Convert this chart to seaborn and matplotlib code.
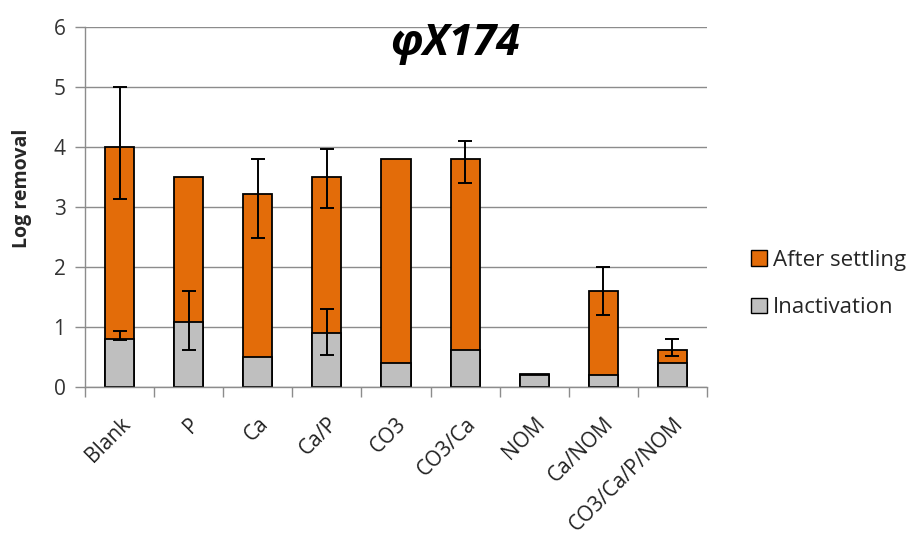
import matplotlib
matplotlib.use("Agg")
import matplotlib.pyplot as plt
import seaborn as sns
import numpy as np
import pandas as pd
from matplotlib.patches import Patch

# Treatment conditions and log removal values
categories = ["Blank", "P", "Ca", "Ca/P", "CO3", "CO3/Ca", "NOM", "Ca/NOM", "CO3/Ca/P/NOM"]
after_settling = [4.0, 3.5, 3.22, 3.5, 3.8, 3.8, 0.21, 1.6, 0.62]
inactivation = [0.8, 1.09, 0.5, 0.9, 0.4, 0.62, 0.2, 0.2, 0.4]

# Error bar extents (below / above the bar top)
settling_err_lo = [0.87, 0.0, 0.73, 0.52, 0.0, 0.4, 0.0, 0.4, 0.11]
settling_err_hi = [1.0, 0.0, 0.58, 0.47, 0.0, 0.3, 0.0, 0.4, 0.18]
inact_err_lo = [0.02, 0.48, 0.0, 0.37, 0.0, 0.0, 0.0, 0.0, 0.0]
inact_err_hi = [0.13, 0.51, 0.0, 0.4, 0.0, 0.0, 0.0, 0.0, 0.0]

yticks = [0, 1, 2, 3, 4, 5, 6]

ORANGE = "#E36C09"
GREY = "#BFBFBF"
AXIS_GREY = "#8C8C8C"

sns.set_theme(style="white")
plt.rcParams["font.family"] = ["Open Sans", "DejaVu Sans"]

df = pd.DataFrame({
    "condition": categories,
    "after": after_settling,
    "inact": inactivation,
})

fig = plt.figure(figsize=(9.14, 5.42), dpi=100)
ax = fig.add_axes([85 / 914, 155 / 542, 622 / 914, 360 / 542])

sns.barplot(data=df, x="condition", y="after", color=ORANGE, saturation=1,
            width=0.42, edgecolor="black", linewidth=1.3, ax=ax, zorder=3)
sns.barplot(data=df, x="condition", y="inact", color=GREY, saturation=1,
            width=0.42, edgecolor="black", linewidth=1.3, ax=ax, zorder=3)

x = np.arange(len(categories))


def draw_err(values, lo, hi):
    values, lo, hi = map(np.asarray, (values, lo, hi))
    mask = (lo + hi) > 0
    ax.errorbar(x[mask], values[mask], yerr=[lo[mask], hi[mask]], fmt="none",
                ecolor="black", elinewidth=1.4, capsize=5, capthick=1.4, zorder=4)


draw_err(after_settling, settling_err_lo, settling_err_hi)
draw_err(inactivation, inact_err_lo, inact_err_hi)

ax.set_xlim(-0.5, len(categories) - 0.5)
ax.set_ylim(0, 6)
ax.set_yticks(yticks)
ax.set_yticklabels([str(v) for v in yticks], fontsize=15, color="#333333")
ax.yaxis.grid(True, color="#8C8C8C", linewidth=1.0, zorder=0)
ax.set_axisbelow(True)

# category labels at bar centres, tick marks at category boundaries
ax.set_xticks(x)
ax.set_xticklabels(categories, rotation=45, ha="right", va="top",
                   rotation_mode="anchor", fontsize=15, color="#222222")
ax.set_xticks(np.arange(-0.5, len(categories)), minor=True)
ax.tick_params(axis="x", which="major", length=0, pad=19)
ax.tick_params(axis="x", which="minor", length=7, width=1.0, color=AXIS_GREY,
               direction="out", bottom=True)
ax.tick_params(axis="y", which="major", length=7, width=1.0, color=AXIS_GREY,
               direction="out", left=True, pad=7)

for side in ("top", "right"):
    ax.spines[side].set_visible(False)
for side in ("left", "bottom"):
    ax.spines[side].set_color(AXIS_GREY)
    ax.spines[side].set_linewidth(1.0)
    ax.spines[side].set_zorder(5)

ax.set_xlabel("")
ax.set_ylabel("Log removal", fontsize=14, fontweight="bold")
ax.yaxis.set_label_coords(-0.085, 0.553)

ax.text(0.595, 0.953, "φX174", transform=ax.transAxes, ha="center", va="center",
        fontsize=31, fontweight="bold", fontstyle="italic", color="black")

handles = [
    Patch(facecolor=ORANGE, edgecolor="black", linewidth=1.0, label="After settling"),
    Patch(facecolor=GREY, edgecolor="black", linewidth=1.0, label="Inactivation"),
]
fig.legend(handles=handles, loc="center left", bbox_to_anchor=(740 / 914, 1 - 284 / 542),
           frameon=False, fontsize=16, handlelength=0.7, handleheight=0.7,
           handletextpad=0.3, labelspacing=1.2, borderpad=0)

fig.savefig("out.png", dpi=100)
